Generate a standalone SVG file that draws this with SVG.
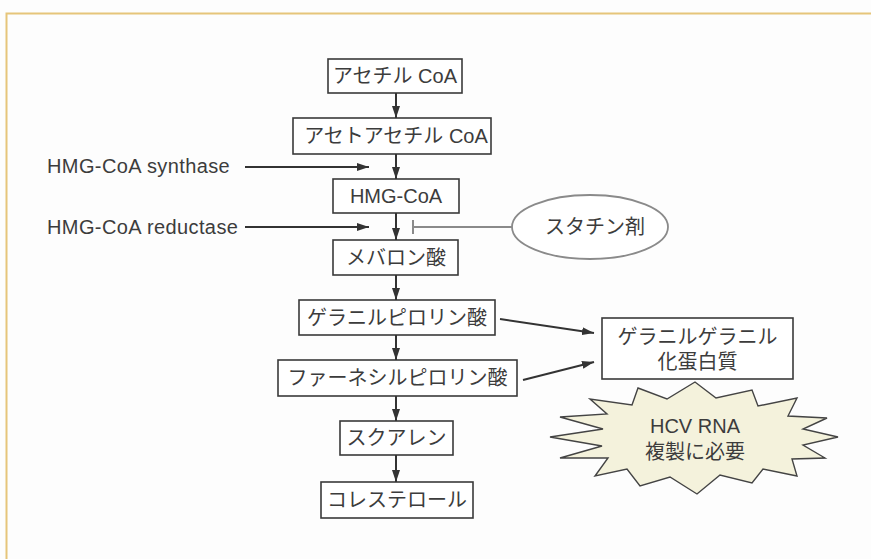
<svg xmlns="http://www.w3.org/2000/svg" width="871" height="559" viewBox="0 0 871 559">
<style>
.box{fill:#fff;stroke:#3a3a3a;stroke-width:1.6}
.t{font-family:"Liberation Sans","Noto Sans CJK JP",sans-serif;font-size:20px;fill:#3c3c3c;text-anchor:middle;dominant-baseline:central}
.tl{font-family:"Liberation Sans","Noto Sans CJK JP",sans-serif;font-size:20px;fill:#3c3c3c;dominant-baseline:central;letter-spacing:0.4px}
.ar{stroke:#333;stroke-width:2;fill:none;marker-end:url(#ah)}
</style>
<defs>
<marker id="ah" viewBox="0 0 12 8" refX="12" refY="4" markerWidth="6" markerHeight="4" orient="auto" markerUnits="strokeWidth">
<path d="M0,0 L12,4 L0,8 z" fill="#333"/>
</marker>
</defs>
<rect x="0" y="0" width="871" height="559" fill="#fdfdfd"/>
<path d="M6.5,559 V13.5 H871" fill="none" stroke="#e6c57a" stroke-width="2"/>
<g id="acetylcoa"><rect class="box" x="328" y="59" width="134" height="34"/><text class="t" x="395" y="76">アセチル CoA</text></g>
<g id="acetoacetylcoa"><rect class="box" x="293" y="118" width="198" height="36"/><text class="t" x="396" y="136">アセトアセチル CoA</text></g>
<g id="hmgcoa"><rect class="box" x="333" y="179" width="126" height="34"/><text class="t" x="396" y="196">HMG-CoA</text></g>
<g id="mevalonate"><rect class="box" x="333" y="240" width="125" height="35"/><text class="t" x="396" y="257.5">メバロン酸</text></g>
<g id="gpp"><rect class="box" x="299" y="300" width="196" height="35"/><text class="t" x="397" y="317.5">ゲラニルピロリン酸</text></g>
<g id="fpp"><rect class="box" x="278" y="360" width="239" height="36"/><text class="t" x="397.5" y="378">ファーネシルピロリン酸</text></g>
<g id="squalene"><rect class="box" x="340" y="421" width="113" height="34"/><text class="t" x="396.5" y="438">スクアレン</text></g>
<g id="cholesterol"><rect class="box" x="321" y="482" width="152" height="36"/><text class="t" x="397" y="500">コレステロール</text></g>
<g id="ggprotein"><rect class="box" x="602" y="318" width="191" height="61"/><text class="t" x="697.5" y="337">ゲラニルゲラニル</text><text class="t" x="697.5" y="362">化蛋白質</text></g>
<g id="synthase"><text class="tl" x="47" y="166">HMG-CoA synthase</text></g>
<g id="reductase"><text class="tl" x="47" y="227">HMG-CoA reductase</text></g>
<g id="statin"><ellipse cx="590" cy="227" rx="78" ry="32" fill="#fff" stroke="#8a8a8a" stroke-width="1.8"/><text class="t" x="595" y="227">スタチン剤</text></g>
<g id="hcv"><polygon points="550,437 603,429 560,417 607,414 590,399 632,405 638,388 667,399 695,382 716,398 752,390 758,406 797,398 788,416 827,418 803,429 838,437 803,445 825,458 792,459 797,476 763,469 752,483 720,475 697,494 670,477 640,486 627,469 595,476 608,458 560,458 602,446" fill="#f4f2dc" stroke="#444" stroke-width="1.4" stroke-linejoin="miter"/><text class="t" x="695" y="426">HCV RNA</text><text class="t" x="695" y="452">複製に必要</text></g>
<g id="connectors">
<line class="ar" x1="396" y1="93" x2="396" y2="118"/>
<line class="ar" x1="396" y1="154" x2="396" y2="179"/>
<line class="ar" x1="396" y1="213" x2="396" y2="240"/>
<line class="ar" x1="396" y1="275" x2="396" y2="300"/>
<line class="ar" x1="396" y1="335" x2="396" y2="360"/>
<line class="ar" x1="396" y1="396" x2="396" y2="421"/>
<line class="ar" x1="396" y1="455" x2="396" y2="482"/>
<line class="ar" x1="245" y1="167" x2="369" y2="167"/>
<line class="ar" x1="245" y1="227" x2="369" y2="227"/>
<line class="ar" x1="500" y1="319" x2="594" y2="333"/>
<line class="ar" x1="523" y1="380" x2="594" y2="362"/>
<line x1="413" y1="227" x2="512" y2="227" stroke="#8a8a8a" stroke-width="2"/>
<line x1="413" y1="220" x2="413" y2="234" stroke="#8a8a8a" stroke-width="2"/>
</g>
</svg>
